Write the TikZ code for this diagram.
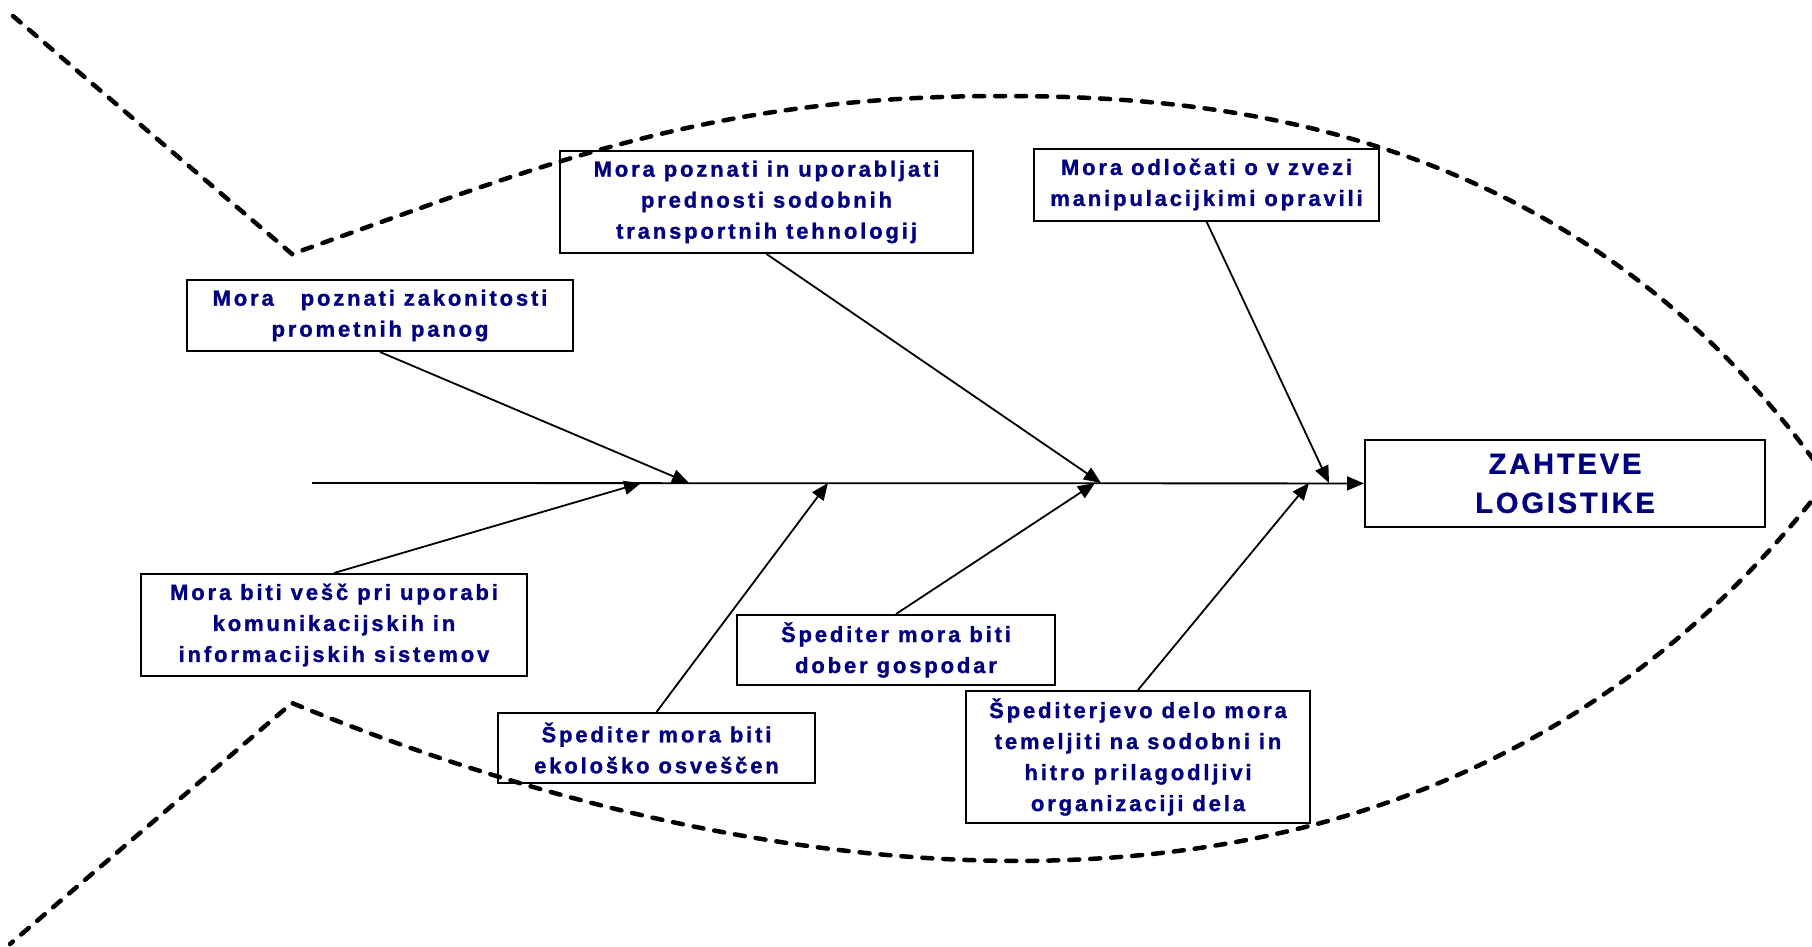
\documentclass[tikz,border=0pt]{standalone}
\usepackage{fontspec}
\setmainfont{Liberation Sans}[LetterSpace=13,FakeBold=1.2]
\newfontfamily\glavafont{Liberation Sans}[LetterSpace=10,FakeBold=1]
\usetikzlibrary{arrows.meta}
\definecolor{napis}{RGB}{0,0,128}
\begin{document}
\begin{tikzpicture}[x=1pt,y=-1pt,
		okvir/.style={draw,line width=2pt,align=center,inner sep=0pt,text=napis,
			font=\fontsize{22}{31}\selectfont\bfseries},
		puscica/.style={line width=1.8pt,-{Triangle[length=17pt,width=14pt]}},
		obris/.style={line width=4.5pt,line cap=round,dash pattern=on 10pt off 11pt}]
		\useasboundingbox (0,0) rectangle (1812,946);
		% ribji obris
		\begin{scope}
			\clip (0,0) rectangle (1812,946);
			\draw[obris] (13,16) -- (292,254) .. controls (550,162) and (710,96) .. (1002,96)
				.. controls (1210,96) and (1578,122) .. (1828,480)
				.. controls (1408,1030) and (700,870) .. (292,703) -- (10,944);
		\end{scope}
		% okvirji
		\node[okvir,minimum width=386pt,minimum height=71pt] (zakon) at (380,315.5) {Mora\ \ \ poznati zakonitosti\\prometnih panog};
		\node[okvir,minimum width=413pt,minimum height=102pt] (tehno) at (766.5,202) {Mora poznati in uporabljati\\prednosti sodobnih\\transportnih tehnologij};
		\node[okvir,minimum width=345pt,minimum height=72pt] (manip) at (1206.5,184.5) {Mora odločati o v zvezi\\manipulacijkimi opravili};
		\node[okvir,minimum width=386pt,minimum height=102pt] (komun) at (334,625) {Mora biti vešč pri uporabi\\komunikacijskih in\\informacijskih sistemov};
		\node[okvir,minimum width=317pt,minimum height=70pt] (ekolo) at (656.5,748) {Špediter mora biti\\ekološko osveščen};
		\node[okvir,minimum width=318pt,minimum height=70pt] (gospo) at (896,650) {Špediter mora biti\\dober gospodar};
		\node[okvir,minimum width=344pt,minimum height=132pt] (organ) at (1138,757) {Špediterjevo delo mora\\temeljiti na sodobni in\\hitro prilagodljivi\\organizaciji dela};
		\node[okvir,minimum width=400pt,minimum height=87pt,font=\glavafont\fontsize{29}{39}\selectfont\bfseries] (zaht) at (1565,483.5) {ZAHTEVE\\LOGISTIKE};
		% hrbtenica
		\coordinate (rep) at (312,483);
		\coordinate (k1) at (689,483);
		\coordinate (k2) at (1101,483);
		\coordinate (k3) at (1329,483);
		\coordinate (k4) at (641,483);
		\coordinate (k5) at (828,483);
		\coordinate (k6) at (1095,483);
		\coordinate (k7) at (1309,483);
		\draw[puscica] (rep) -- (zaht);
		\draw[puscica] (zakon.south) -- (k1);
		\draw[puscica] (tehno.south) -- (k2);
		\draw[puscica] (manip.south) -- (k3);
		\draw[puscica] (komun.north) -- (k4);
		\draw[puscica] (ekolo.north) -- (k5);
		\draw[puscica] (gospo.north) -- (k6);
		\draw[puscica] (organ.north) -- (k7);
	\end{tikzpicture}
\end{document}
